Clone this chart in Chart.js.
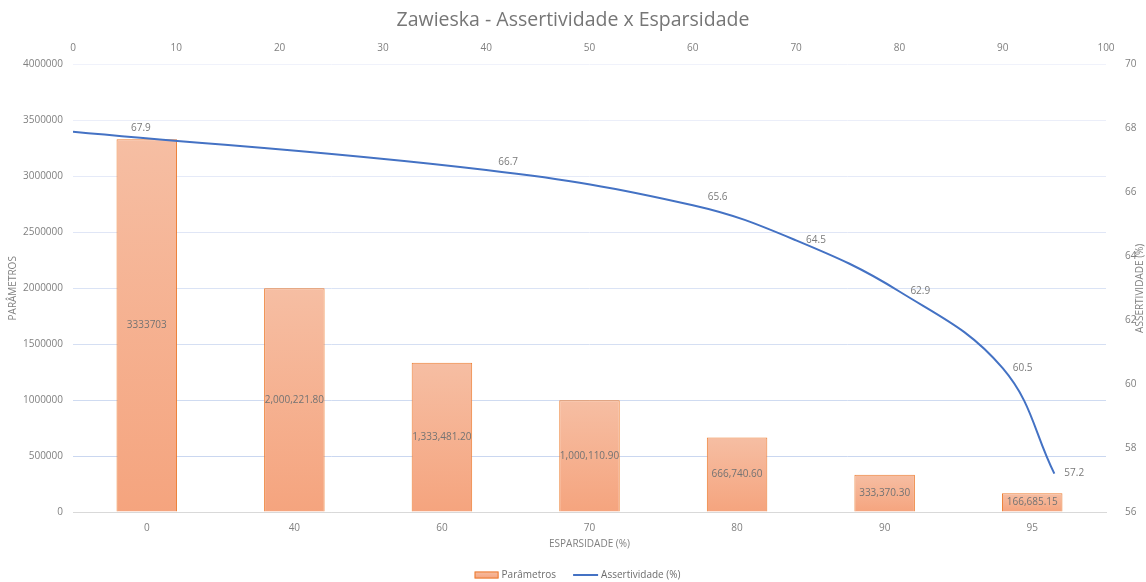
<!DOCTYPE html>
<html><head><meta charset="utf-8">
<script src="https://cdn.jsdelivr.net/npm/chart.js@4.4.1/dist/chart.umd.min.js"></script>
<style>html,body{margin:0;padding:0;background:#fff;}#wrap{width:1146px;height:582px;}</style>
</head><body><div id="wrap"><canvas id="c" width="1146" height="582"></canvas></div>
<script>
// ---- data ----
const categories = ['0', '40', '60', '70', '80', '90', '95'];
const sparsityX = [0, 40, 60, 70, 80, 90, 95];
const parametros = [3333703, 2000221.80, 1333481.20, 1000110.90, 666740.60, 333370.30, 166685.15];
const assertividade = [67.9, 66.7, 65.6, 64.5, 62.9, 60.5, 57.2];
const seriesNames = ['Parâmetros', 'Assertividade (%)'];

const FONT = "'Open Sans', sans-serif";
const TICK = '#808080';
const LABEL = '#737373';
const BAR_BORDER = '#ed7d31';
const LINE_COLOR = '#4472c4';

function fmtBar(v) {
  if (Number.isInteger(v)) return String(v);
  return v.toLocaleString('en-US', {minimumFractionDigits: 2, maximumFractionDigits: 2});
}

const lineLabelShift = [[58, -4], [12, -8], [15, -8], [10, 0], [11, 0], [10, 0], [10, 0]];

const labelPlugin = {
  id: 'valueLabels',
  afterDatasetsDraw(chart) {
    const ctx = chart.ctx;
    ctx.save();
    ctx.font = '10px ' + FONT;
    ctx.fillStyle = LABEL;
    const barMeta = chart.getDatasetMeta(0);
    ctx.textAlign = 'center';
    ctx.textBaseline = 'middle';
    barMeta.data.forEach((el, i) => {
      const y = (el.y + el.base) / 2;
      ctx.fillText(fmtBar(parametros[i]), el.x, y);
    });
    const lineMeta = chart.getDatasetMeta(1);
    ctx.textAlign = 'left';
    ctx.fillStyle = '#7a7a7a';
    lineMeta.data.forEach((el, i) => {
      const s = lineLabelShift[i] || [10, 0];
      ctx.fillText(assertividade[i].toFixed(1), el.x + s[0], el.y + s[1]);
    });
    ctx.restore();
  },
  afterDraw(chart) {
    const ctx = chart.ctx;
    const a = chart.chartArea;
    ctx.save();
    ctx.font = '10px ' + FONT;
    ctx.fillStyle = TICK;
    ctx.textAlign = 'center';
    ctx.textBaseline = 'middle';
    ctx.translate(1140, (a.top + a.bottom) / 2);
    ctx.rotate(-Math.PI / 2);
    ctx.fillText('ASSERTIVIDADE (%)', 0, 0);
    ctx.restore();

    // legend
    ctx.save();
    ctx.font = '10px ' + FONT;
    ctx.textBaseline = 'middle';
    ctx.textAlign = 'left';
    const w0 = ctx.measureText(seriesNames[0]).width;
    const w1 = ctx.measureText(seriesNames[1]).width;
    const total = 24 + 3 + w0 + 17 + 25 + 3 + w1;
    let x = 577.5 - total / 2;
    const y = 575;
    const g = ctx.createLinearGradient(0, y - 3.5, 0, y + 3.5);
    g.addColorStop(0, '#f6bea3'); g.addColorStop(1, '#f5a47e');
    ctx.fillStyle = g;
    ctx.fillRect(x, y - 3.5, 24, 7);
    ctx.strokeStyle = BAR_BORDER; ctx.lineWidth = 1;
    ctx.strokeRect(x + 0.5, y - 3, 23, 6);
    x += 27;
    ctx.fillStyle = '#6d6d6d';
    ctx.fillText(seriesNames[0], x, y);
    x += w0 + 17;
    ctx.strokeStyle = LINE_COLOR; ctx.lineWidth = 2;
    ctx.beginPath(); ctx.moveTo(x, y); ctx.lineTo(x + 25, y); ctx.stroke();
    x += 28;
    ctx.fillText(seriesNames[1], x, y);
    ctx.restore();
  }
};

function gridColor(ctx) {
  const v = ctx.tick ? ctx.tick.value : 0;
  if (v === 0) return '#d9d9d9';
  const t = v / 4000000; // 0 bottom .. 1 top
  const c0 = [196, 211, 238], c1 = [240, 242, 251];
  const c = c0.map((x, k) => Math.round(x + (c1[k] - x) * t));
  return `rgb(${c[0]},${c[1]},${c[2]})`;
}

new Chart(document.getElementById('c'), {
  type: 'bar',
  data: {
    labels: categories,
    datasets: [
      {
        type: 'bar',
        label: seriesNames[0],
        data: parametros,
        xAxisID: 'x',
        yAxisID: 'y',
        grouped: false,
        borderColor: BAR_BORDER,
        borderWidth: 1,
        categoryPercentage: 1,
        barPercentage: 0.41,
        backgroundColor: (c) => {
          const ch = c.chart, ys = ch.scales.y;
          if (!ys || c.type !== 'data') return '#f5b08f';
          const top = ys.getPixelForValue(c.raw), bot = ys.getPixelForValue(0);
          if (!isFinite(top) || !isFinite(bot) || top === bot) return '#f5b08f';
          const g = ch.ctx.createLinearGradient(0, top, 0, bot);
          g.addColorStop(0, '#f6bea3');
          g.addColorStop(1, '#f5a47e');
          return g;
        },
        order: 2
      },
      {
        type: 'line',
        label: seriesNames[1],
        data: sparsityX.map((x, i) => ({x: x, y: assertividade[i]})),
        xAxisID: 'x2',
        yAxisID: 'y2',
        borderColor: LINE_COLOR,
        backgroundColor: LINE_COLOR,
        borderWidth: 2,
        pointRadius: 0,
        tension: 0.4,
        fill: false,
        order: 1
      }
    ]
  },
  options: {
    responsive: false,
    animation: false,
    devicePixelRatio: 1,
    layout: {padding: 0},
    plugins: {
      title: {
        display: true,
        text: 'Zawieska - Assertividade x Esparsidade',
        color: '#767676',
        font: {family: FONT, size: 19.5, weight: 'normal'},
        padding: {top: 9, bottom: 4}
      },
      legend: {display: false},
      tooltip: {enabled: false}
    },
    scales: {
      x: {
        type: 'category',
        position: 'bottom',
        offset: true,
        grid: {display: false},
        border: {display: true, color: '#d9d9d9'},
        ticks: {color: TICK, font: {family: FONT, size: 10}, padding: 2},
        title: {display: true, text: 'ESPARSIDADE (%)', color: TICK, font: {family: FONT, size: 10}, padding: {top: 0, bottom: 32}},
        afterFit: (s) => { s.height = 70; }
      },
      x2: {
        type: 'linear',
        position: 'top',
        offset: false,
        min: 0, max: 100,
        grid: {display: false, offset: false},
        border: {display: false},
        ticks: {stepSize: 10, color: TICK, font: {family: FONT, size: 10}, padding: 2},
        afterFit: (s) => { s.height = 28.2; }
      },
      y: {
        type: 'linear',
        position: 'left',
        min: 0, max: 4000000,
        grid: {color: gridColor, drawTicks: false},
        border: {display: false},
        ticks: {stepSize: 500000, color: TICK, font: {family: FONT, size: 10}, padding: 10, callback: (v) => String(v)},
        title: {display: true, text: 'PARÂMETROS', color: TICK, font: {family: FONT, size: 10}, padding: {top: 7, bottom: 0}},
        afterFit: (s) => { s.width = 73; }
      },
      y2: {
        type: 'linear',
        position: 'right',
        min: 56, max: 70,
        grid: {display: false},
        border: {display: false},
        ticks: {stepSize: 2, color: TICK, font: {family: FONT, size: 10}, padding: 11},
        afterFit: (s) => { s.width = 40; }
      }
    }
  },
  plugins: [labelPlugin]
});
</script>
</body></html>
